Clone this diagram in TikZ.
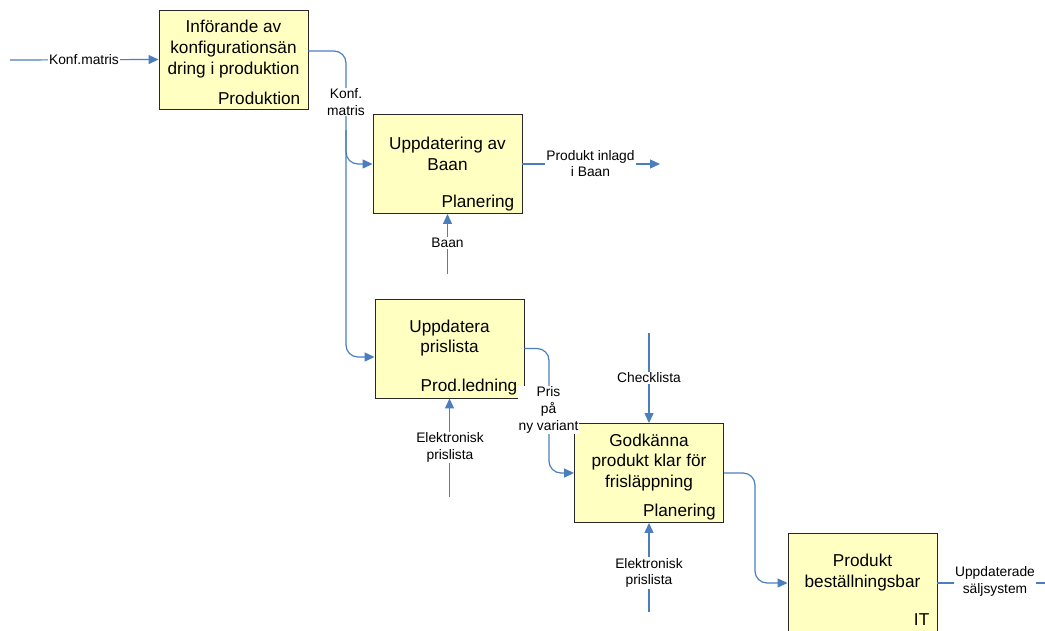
\documentclass[tikz,border=0pt]{standalone}
\usepackage{fontspec}
\setmainfont{Liberation Sans}
\usetikzlibrary{arrows.meta}
\definecolor{flow}{RGB}{74,126,190}
\definecolor{boxfill}{RGB}{255,255,194}
\definecolor{boxline}{RGB}{40,40,40}
\tikzset{
  x=1pt, y=-1pt,
  activity/.style={draw=boxline, fill=boxfill, line width=0.9pt,
    minimum width=149pt, minimum height=99pt, inner sep=0pt},
  title/.style={align=center, inner sep=0pt,
    font=\fontsize{17.2}{20.8}\selectfont},
  role/.style={anchor=east, inner sep=0pt,
    font=\fontsize{17.2}{20.8}\selectfont},
  flowlabel/.style={fill=white, align=center, inner sep=1pt,
    font=\fontsize{13.8}{16.6}\selectfont},
  conn/.style={draw=flow, line width=1.2pt, rounded corners=12pt},
  arr/.style={conn, -{Triangle[length=10pt,width=9pt]}},
}
\begin{document}
\begin{tikzpicture}
\clip (0,0) rectangle (1045,630);
\fill[white] (0,0) rectangle (1045,630);

% activity boxes
\node[activity] (b1) at (233.5,59.5) {};
\node[activity] (b2) at (447.5,164) {};
\node[activity] (b3) at (449.5,348.5) {};
\node[activity] (b4) at (649,473) {};
\node[activity] (b5) at (862.5,583) {};

% box texts
\node[title] (t1) at ([yshift=10.5pt]b1.center) {Införande av\\konfigurationsän\\dring i produktion};
\node[role]  (r1) at ([xshift=-8pt,yshift=11pt]b1.south east) {Produktion};
\node[title] (t2) at ([yshift=10.5pt]b2.center) {Uppdatering av\\Baan};
\node[role]  (r2) at ([xshift=-8pt,yshift=11pt]b2.south east) {Planering};
\node[title] (t3) at ([yshift=10.5pt]b3.center) {Uppdatera\\prislista};
\node[role]  (r3) at ([xshift=-7pt,yshift=11pt]b3.south east) {Prod.ledning};
\fill[white] ([xshift=-6pt,yshift=12.5pt]b3.south east) rectangle ([xshift=1pt,yshift=-1pt]b3.south east);
\node[title] (t4) at ([yshift=10.5pt]b4.center) {Godkänna\\produkt klar för\\frisläppning};
\node[role]  (r4) at ([xshift=-8pt,yshift=11pt]b4.south east) {Planering};
\node[title] (t5) at ([yshift=10.5pt]b5.center) {Produkt\\beställningsbar};
\node[role]  (r5) at ([xshift=-8pt,yshift=13pt]b5.south east) {IT};

% free ends of connectors
\coordinate (in1) at (10,60);
\coordinate (out2) at (660,164);
\coordinate (ctl2) at (447.5,274);
\coordinate (ctl3) at (449.5,497);
\coordinate (top4) at (649,333);
\coordinate (ctl4) at (649,612);
\coordinate (out5) at (1060,583);

% connectors
\draw[arr] (in1) -- (b1.west);
\draw[arr] ([yshift=8.5pt]b1.east) -- (346,51) -- (346,357) -- ([yshift=-8.5pt]b3.west);
\draw[arr] (346,130) -- (346,164) -- (b2.west);
\draw[arr] (b2.east) -- (out2);
\draw[arr] (ctl2) -- (b2.south);
\draw[arr] (ctl3) -- (b3.south);
\draw[arr] (b3.east) -- (549,348.5) -- (549,473) -- (b4.west);
\draw[arr] (top4) -- (b4.north);
\draw[arr] (ctl4) -- (b4.south);
\draw[arr] (b4.east) -- (755,473) -- (755,583) -- (b5.west);
\draw[arr] (b5.east) -- (out5);

% connector labels
\node[flowlabel] (l1) at (84,60) {Konf.matris};
\node[flowlabel] (l2) at (346,102) {Konf.\\matris};
\node[flowlabel] (l3) at (590.5,163.5) {Produkt inlagd\\i Baan};
\node[flowlabel] (l4) at (447.5,243) {Baan};
\node[flowlabel] (l5) at (450,447.5) {Elektronisk\\prislista};
\node[flowlabel] (l6) at (548.5,410) {Pris\\på\\ny variant};
\node[flowlabel] (l7) at (649,378) {Checklista};
\node[flowlabel] (l8) at (649,573) {Elektronisk\\prislista};
\node[flowlabel] (l9) at (995,581.5) {Uppdaterade\\säljsystem};
\end{tikzpicture}
\end{document}
